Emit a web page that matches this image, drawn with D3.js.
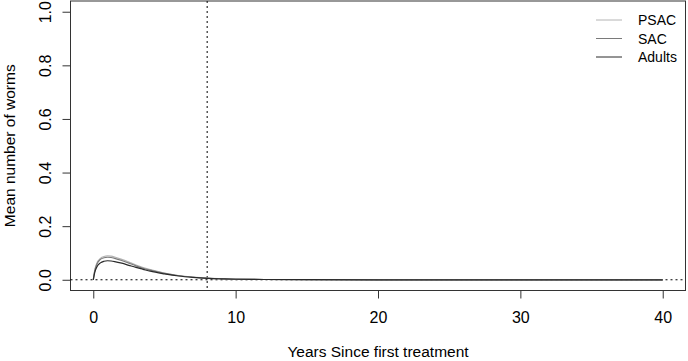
<!DOCTYPE html>
<html>
<head>
<meta charset="utf-8">
<script src="https://cdn.jsdelivr.net/npm/d3@7"></script>
<style>
  body { margin: 0; background: #fff; }
  text { font-family: "Liberation Sans", Arial, sans-serif; }
</style>
</head>
<body>
<svg width="688" height="361"></svg>
<script>
const years = [0, 0.1, 0.25, 0.5, 0.75, 1, 1.25, 1.5, 2, 2.5, 3, 3.5, 4, 5, 6, 7, 8, 9, 10, 12, 15, 20, 30, 40];
const psac = [0, 0.035, 0.062, 0.080, 0.087, 0.089, 0.088, 0.085, 0.076, 0.066, 0.055, 0.046, 0.038, 0.025, 0.016, 0.010, 0.006, 0.004, 0.0025, 0.001, 0.0003, 0, 0, 0];
const sac = [0, 0.032, 0.058, 0.076, 0.082, 0.084, 0.083, 0.080, 0.072, 0.062, 0.052, 0.043, 0.036, 0.024, 0.015, 0.0095, 0.006, 0.0035, 0.0022, 0.001, 0.0003, 0, 0, 0];
const adults = [0, 0.027, 0.048, 0.063, 0.069, 0.071, 0.070, 0.068, 0.062, 0.054, 0.046, 0.039, 0.032, 0.022, 0.014, 0.009, 0.0055, 0.0035, 0.002, 0.001, 0.0003, 0, 0, 0];
const xTicks = [0, 10, 20, 30, 40];
const yTicks = [0, 0.2, 0.4, 0.6, 0.8, 1.0];
const seriesNames = ["PSAC", "SAC", "Adults"];
const seriesColors = ["#b4b4b4", "#7a7a7a", "#2a2a2a"];

const svg = d3.select("svg");
const plotLeft = 70.5, plotRight = 685.5, plotTop = 1, plotBottom = 290.5;

const xScale = d3.scaleLinear().domain([-1.6, 41.6]).range([plotLeft, plotRight]);
const yScale = d3.scaleLinear().domain([-0.04, 1.04]).range([plotBottom, plotTop]);

// plot box
svg.append("rect")
    .attr("x", plotLeft).attr("y", plotTop)
    .attr("width", plotRight - plotLeft).attr("height", plotBottom - plotTop)
    .attr("fill", "none").attr("stroke", "#333").attr("stroke-width", 1);

// axes
const xAxis = d3.axisBottom(xScale).tickValues(xTicks).tickSize(8).tickPadding(13).tickFormat(d3.format("d"));
const yAxis = d3.axisLeft(yScale).tickValues(yTicks).tickSize(8).tickFormat(d3.format(".1f"));

const xAxisG = svg.append("g")
    .attr("transform", `translate(0, ${plotBottom})`)
    .call(xAxis);
xAxisG.select(".domain").remove();
xAxisG.selectAll("line").attr("stroke", "#333");
xAxisG.selectAll("text").attr("font-size", 16).attr("fill", "#000");

const yAxisG = svg.append("g")
    .attr("transform", `translate(${plotLeft}, 0)`)
    .call(yAxis);
yAxisG.select(".domain").remove();
yAxisG.selectAll("line").attr("stroke", "#333");
yAxisG.selectAll("text")
    .attr("font-size", 16).attr("fill", "#000")
    .attr("text-anchor", "middle")
    .attr("x", 0).attr("y", 0).attr("dy", 0)
    .attr("transform", "translate(-20, 0) rotate(-90)");

svg.append("text")
    .attr("x", (plotLeft + plotRight) / 2).attr("y", 357)
    .attr("text-anchor", "middle").attr("font-size", 15.5)
    .text("Years Since first treatment");

svg.append("text")
    .attr("transform", `translate(15, ${(plotTop + plotBottom) / 2}) rotate(-90)`)
    .attr("text-anchor", "middle").attr("font-size", 15.5)
    .text("Mean number of worms");

// reference lines
svg.append("line")
    .attr("x1", plotLeft).attr("x2", plotRight)
    .attr("y1", yScale(0)).attr("y2", yScale(0))
    .attr("stroke", "#000").attr("stroke-dasharray", "2,3");
svg.append("line")
    .attr("x1", xScale(8)).attr("x2", xScale(8))
    .attr("y1", plotTop).attr("y2", plotBottom)
    .attr("stroke", "#000").attr("stroke-dasharray", "2,3");

// curves
const line = d3.line()
    .x((d, i) => xScale(years[i]))
    .y(d => yScale(d))
    .curve(d3.curveMonotoneX);

[psac, sac, adults].forEach((vals, i) => {
    svg.append("path")
        .datum(vals)
        .attr("d", line)
        .attr("fill", "none")
        .attr("stroke", seriesColors[i])
        .attr("stroke-width", 1.2);
});

// legend
seriesNames.forEach((name, i) => {
    const y = 20 + i * 18.5;
    svg.append("line")
        .attr("x1", 596).attr("x2", 622)
        .attr("y1", y).attr("y2", y)
        .attr("stroke", seriesColors[i]);
    svg.append("text")
        .attr("x", 638).attr("y", y + 5)
        .attr("font-size", 14)
        .text(name);
});
</script>
</body>
</html>
